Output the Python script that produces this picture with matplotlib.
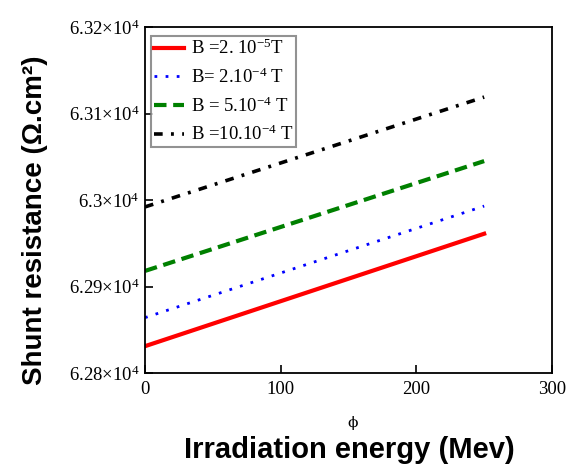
import matplotlib
matplotlib.use("Agg")
import matplotlib.pyplot as plt
from matplotlib.ticker import FixedLocator, FixedFormatter

plt.rcParams['mathtext.fontset'] = 'custom'
plt.rcParams['mathtext.rm'] = 'Liberation Serif'
plt.rcParams['mathtext.it'] = 'Liberation Serif'
plt.rcParams['mathtext.bf'] = 'Liberation Serif:bold'

phi = [0, 250]
r_b1 = [62831, 62961]   # B = 2.10^-5 T
r_b2 = [62864, 62993]   # B = 2.10^-4 T
r_b3 = [62918, 63045]   # B = 5.10^-4 T
r_b4 = [62992, 63119]   # B = 10.10^-4 T

labels = [r"B =2. 10$^{-5}$T", r"B= 2.10$^{-4}$ T", r"B = 5.10$^{-4}$ T", r"B =10.10$^{-4}$ T"]
xticks = [0, 100, 200, 300]
yticks = [62800, 62900, 63000, 63100, 63200]
yticklabels = [r"6.28×10$^{4}$", r"6.29×10$^{4}$", r"6.3×10$^{4}$", r"6.31×10$^{4}$", r"6.32×10$^{4}$"]

fig = plt.figure(figsize=(5.7, 4.66), dpi=100)
ax = fig.add_axes([145/570, 1 - 373/466, (552-145)/570, (373-27)/466])

ax.plot(phi, r_b1, color='#ff0000', lw=3.0, ls='-', label=labels[0])
ax.plot(phi, r_b2, color='#0000ff', lw=2.0, ls=(0, (1, 3)), label=labels[1])
ax.plot(phi, r_b3, color='#008000', lw=3.0, ls=(0, (3, 1.6)), label=labels[2])
ax.plot(phi, r_b4, color='#000000', lw=2.6, ls=(0, (2.4, 2.3, 0.8, 2.3)), label=labels[3])

ax.set_xlim(0, 300)
ax.set_ylim(62800, 63200)
ax.xaxis.set_major_locator(FixedLocator(xticks))
ax.yaxis.set_major_locator(FixedLocator(yticks))
ax.yaxis.set_major_formatter(FixedFormatter(yticklabels))
ax.tick_params(direction='in', length=6, width=1.2, labelsize=13.5)
ax.tick_params(axis='x', pad=6)
ax.tick_params(axis='y', pad=4)
for lab in ax.get_xticklabels() + ax.get_yticklabels():
    lab.set_fontfamily('Liberation Serif')
for s in ax.spines.values():
    s.set_linewidth(1.3)

leg = ax.legend(loc='upper left', bbox_to_anchor=(0.005, 0.985), prop={'family': 'Liberation Serif', 'size': 13.5},
                frameon=True, fancybox=False, edgecolor='#777777', handlelength=1.6,
                labelspacing=0.5, borderpad=0.15, handletextpad=0.4, borderaxespad=0.2)
leg.get_frame().set_linewidth(1.5)

fig.text(35/570, 1 - 220/466, "Shunt resistance (Ω.cm²)", fontfamily='Liberation Sans', fontweight='bold',
         fontsize=20, rotation=90, ha='center', va='center')
fig.text(353/570, 1 - 423/466, "ϕ", fontfamily='DejaVu Serif', fontsize=11, ha='center', va='center')
fig.text(349/570, 1 - 450/466, "Irradiation energy (Mev)", fontfamily='Liberation Sans', fontweight='bold',
         fontsize=21, ha='center', va='center')

fig.savefig("out.png", dpi=100)
